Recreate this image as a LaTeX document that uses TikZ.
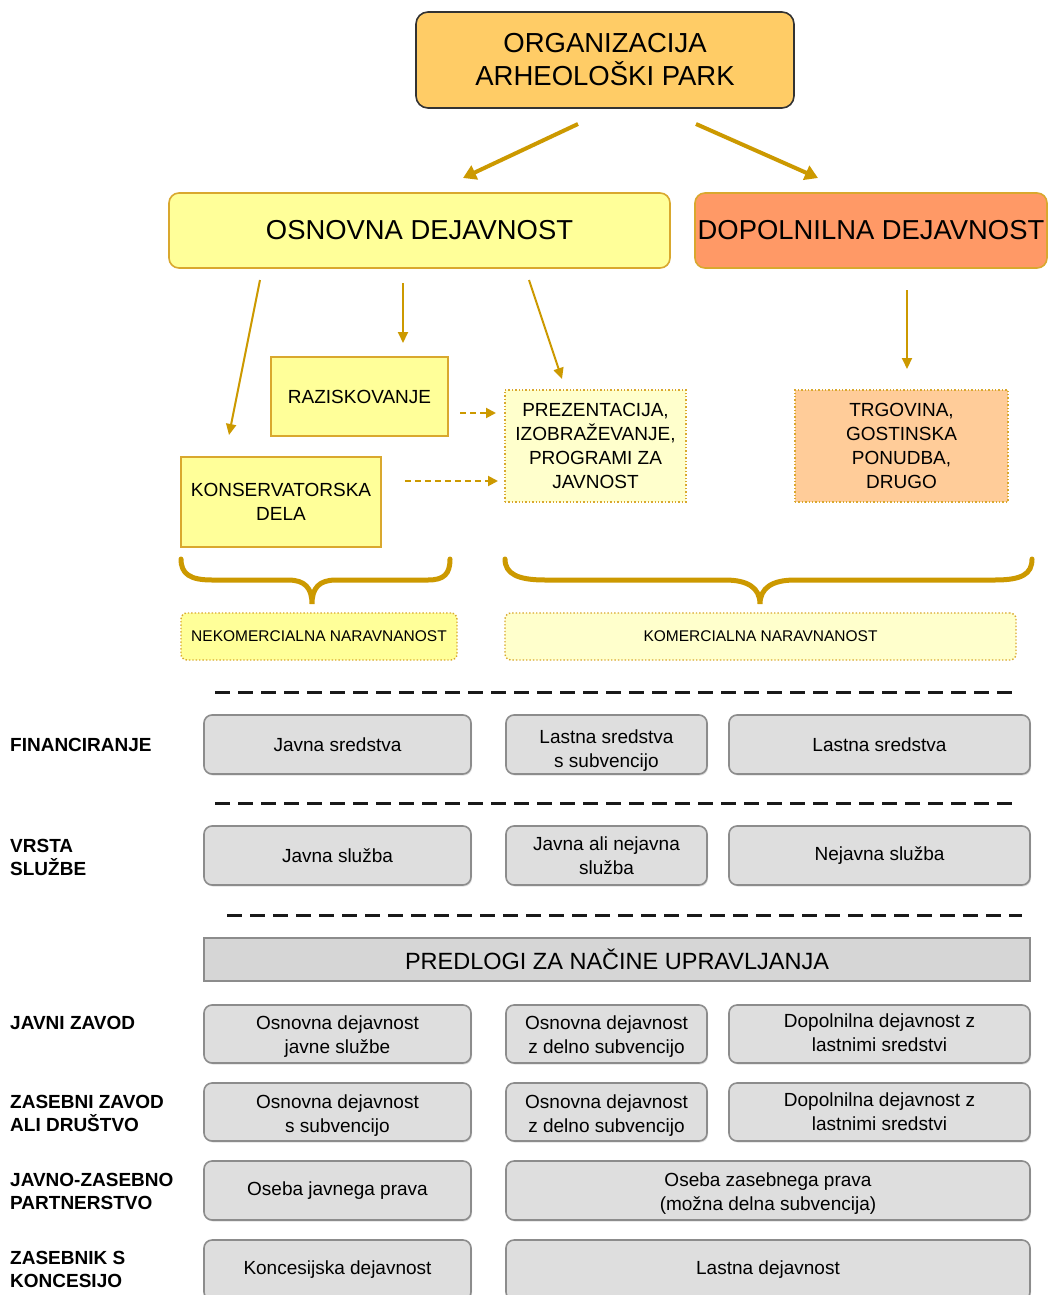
\documentclass[tikz,border=0pt]{standalone}
\usepackage{fontspec}
\setmainfont{Liberation Sans}
\usetikzlibrary{arrows.meta,shadows}
\definecolor{gold}{HTML}{CC9900}
\definecolor{goldline}{HTML}{D9A82E}
\definecolor{orgfill}{HTML}{FFCC66}
\definecolor{yel}{HTML}{FFFF99}
\definecolor{paleyel}{HTML}{FFFFCC}
\definecolor{salmon}{HTML}{FF9966}
\definecolor{peach}{HTML}{FFCC99}
\definecolor{grayfill}{HTML}{DEDEDE}
\definecolor{grayline}{HTML}{8C8C8C}
\newcommand{\lowtext}[2]{\raisebox{-#1}[\height][\depth]{\begin{tabular}{@{}c@{}}#2\end{tabular}}}
\tikzset{
  every node/.style={inner sep=0pt, align=center, text=black},
  orgbox/.style={draw=black!80, line width=1.6pt, fill=orgfill, rounded corners=12pt,
     font=\fontsize{27.5}{33}\selectfont},
  headbox/.style={draw=goldline, line width=1.6pt, rounded corners=10pt,
     font=\fontsize{27.4}{32}\selectfont},
  subbox/.style={draw=goldline, line width=1.6pt, fill=yel,
     font=\fontsize{19}{23.7}\selectfont},
  dotbox/.style={draw=goldline, line width=1.4pt, dotted,
     font=\fontsize{19}{23.7}\selectfont},
  natbox/.style={draw=goldline, line width=1.4pt, dotted, rounded corners=6pt,
     font=\fontsize{15.5}{19}\selectfont},
  graybox/.style={draw=grayline, line width=1.6pt, fill=grayfill, rounded corners=8pt,
     drop shadow={opacity=0.25, shadow xshift=1pt, shadow yshift=-1.5pt},
     font=\fontsize{19}{24}\selectfont},
  rowlabel/.style={anchor=west, align=left, font=\bfseries\fontsize{19}{23}\selectfont},
  bigarrow/.style={draw=gold, line width=4pt, -{Triangle[length=13pt,width=15pt]}},
  smallarrow/.style={draw=gold, line width=2pt, -{Triangle[length=11pt,width=10pt]}},
  dasharrow/.style={draw=gold, line width=2pt, dash pattern=on 6pt off 4pt,
     -{Triangle[length=10pt,width=10pt]}},
  sepline/.style={draw=black!90, line width=3pt, dash pattern=on 15pt off 8pt},
  bracepath/.style={draw=gold, line width=5pt, line cap=round},
}
\begin{document}
\begin{tikzpicture}[x=1pt,y=-1pt]
\clip (0,0) rectangle (1048,1295);
\fill[white] (0,0) rectangle (1048,1295);

% top
\node[orgbox, minimum width=378, minimum height=96] (org) at (605,60) {ORGANIZACIJA\\ARHEOLOŠKI PARK};
\node[headbox, fill=yel, minimum width=501, minimum height=75] (osn) at (419.5,230.5) {OSNOVNA DEJAVNOST};
\node[headbox, fill=salmon, minimum width=352, minimum height=75] (dop) at (871,230.5) {DOPOLNILNA DEJAVNOST};

% second level
\node[subbox, minimum width=177, minimum height=79] (raz) at (359.5,396.5) {RAZISKOVANJE};
\node[subbox, minimum width=200, minimum height=90] (kon) at (281,502) {KONSERVATORSKA\\DELA};
\node[dotbox, fill=paleyel, minimum width=181, minimum height=112] (pre) at (595.5,446) {PREZENTACIJA,\\IZOBRAŽEVANJE,\\PROGRAMI ZA\\JAVNOST};
\node[dotbox, fill=peach, minimum width=213, minimum height=112] (trg) at (901.5,446) {TRGOVINA,\\GOSTINSKA\\PONUDBA,\\DRUGO};

% arrow end points
\coordinate (a1s) at (578,124); \coordinate (a1e) at (463,178);
\coordinate (a2s) at (696,124); \coordinate (a2e) at (818,178);
\coordinate (a3s) at (260,280); \coordinate (a3e) at (229,435);
\coordinate (a4s) at (403,283); \coordinate (a4e) at (403,343);
\coordinate (a5s) at (529,280); \coordinate (a5e) at (562,379);
\coordinate (a6s) at (907,290); \coordinate (a6e) at (907,369);
\coordinate (a7s) at (460,413); \coordinate (a7e) at (496,413);
\coordinate (a8s) at (405,481); \coordinate (a8e) at (498,481);

\draw[bigarrow] (a1s) -- (a1e);
\draw[bigarrow] (a2s) -- (a2e);
\draw[smallarrow] (a3s) -- (a3e);
\draw[smallarrow] (a4s) -- (a4e);
\draw[smallarrow] (a5s) -- (a5e);
\draw[smallarrow] (a6s) -- (a6e);
\draw[dasharrow] (a7s) -- (a7e);
\draw[dasharrow] (a8s) -- (a8e);

% braces
\draw[bracepath] (181,559) .. controls (181,574) and (190,580) .. (212,580)
   -- (288,580) .. controls (305,580) and (312,588) .. (312,604)
   .. controls (312,588) and (319,580) .. (336,580)
   -- (428,580) .. controls (444,580) and (450,574) .. (450,559);
\draw[bracepath] (505,559) .. controls (505,574) and (518,580) .. (545,580)
   -- (725,580) .. controls (748,580) and (760,588) .. (760,604)
   .. controls (760,588) and (772,580) .. (795,580)
   -- (995,580) .. controls (1022,580) and (1032,574) .. (1032,559);

\node[natbox, fill=yel, minimum width=276, minimum height=47] (nek) at (319,636.5) {NEKOMERCIALNA NARAVNANOST};
\node[natbox, fill=paleyel, minimum width=511, minimum height=47] (kom) at (760.5,636.5) {KOMERCIALNA NARAVNANOST};

% separators
\coordinate (s1a) at (215,692); \coordinate (s1b) at (1012,692);
\coordinate (s2a) at (215,803); \coordinate (s2b) at (1012,803);
\coordinate (s3a) at (227,915); \coordinate (s3b) at (1022,915);
\draw[sepline] (s1a) -- (s1b);
\draw[sepline] (s2a) -- (s2b);
\draw[sepline] (s3a) -- (s3b);

% row labels
\node[rowlabel] (lfin) at (10,745) {FINANCIRANJE};
\node[rowlabel] (lvrs) at (10,857) {VRSTA\\SLUŽBE};
\node[rowlabel] (ljz) at (10,1023) {JAVNI ZAVOD};
\node[rowlabel] (lzz) at (10,1113.5) {ZASEBNI ZAVOD\\ALI DRUŠTVO};
\node[rowlabel] (ljzp) at (10,1191.5) {JAVNO-ZASEBNO\\PARTNERSTVO};
\node[rowlabel] (lzk) at (10,1269.5) {ZASEBNIK S\\KONCESIJO};

% financiranje
\node[graybox, minimum width=267, minimum height=59] (f1) at (337.5,744.5) {Javna sredstva};
\node[graybox, minimum width=201, minimum height=59] (f2) at (606.5,744.5) {\lowtext{6pt}{Lastna sredstva\\s subvencijo}};
\node[graybox, minimum width=301, minimum height=59] (f3) at (879.5,744.5) {Lastna sredstva};
% vrsta sluzbe
\node[graybox, minimum width=267, minimum height=59] (v1) at (337.5,855.5) {Javna služba};
\node[graybox, minimum width=201, minimum height=59] (v2) at (606.5,855.5) {\lowtext{2pt}{Javna ali nejavna\\služba}};
\node[graybox, minimum width=301, minimum height=59] (v3) at (879.5,855.5) {Nejavna služba};

% predlogi
\node[draw=black!45, line width=1.2pt, fill=black!16, minimum width=826, minimum height=43,
      font=\fontsize{23.5}{27}\selectfont] (pred) at (617,959.5) {PREDLOGI ZA NAČINE UPRAVLJANJA};

% javni zavod
\node[graybox, minimum width=267, minimum height=58] (j1) at (337.5,1034) {\lowtext{3pt}{Osnovna dejavnost\\javne službe}};
\node[graybox, minimum width=201, minimum height=58] (j2) at (606.5,1034) {\lowtext{3pt}{Osnovna dejavnost\\z delno subvencijo}};
\node[graybox, minimum width=301, minimum height=58] (j3) at (879.5,1034) {\lowtext{1pt}{Dopolnilna dejavnost z\\lastnimi sredstvi}};
% zasebni zavod
\node[graybox, minimum width=267, minimum height=58] (z1) at (337.5,1112) {\lowtext{4pt}{Osnovna dejavnost\\s subvencijo}};
\node[graybox, minimum width=201, minimum height=58] (z2) at (606.5,1112) {\lowtext{4pt}{Osnovna dejavnost\\z delno subvencijo}};
\node[graybox, minimum width=301, minimum height=58] (z3) at (879.5,1112) {\lowtext{2pt}{Dopolnilna dejavnost z\\lastnimi sredstvi}};
% javno-zasebno
\node[graybox, minimum width=267, minimum height=59] (p1) at (337.5,1190.5) {Oseba javnega prava};
\node[graybox, minimum width=524, minimum height=59] (p2) at (768,1190.5) {\lowtext{3pt}{Oseba zasebnega prava\\(možna delna subvencija)}};
% zasebnik s koncesijo
\node[graybox, minimum width=267, minimum height=60] (k1) at (337.5,1270) {Koncesijska dejavnost};
\node[graybox, minimum width=524, minimum height=60] (k2) at (768,1270) {Lastna dejavnost};
\end{tikzpicture}
\end{document}
